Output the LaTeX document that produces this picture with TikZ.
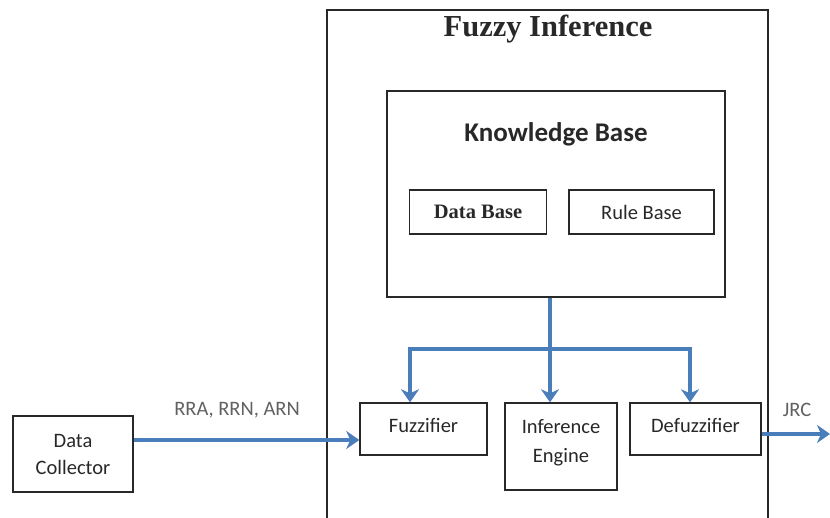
\documentclass[tikz,border=0pt]{standalone}
\usepackage{fontspec}
\setmainfont{Liberation Serif}
\newfontfamily\calfont{Carlito}
\usetikzlibrary{arrows.meta}
\definecolor{flow}{RGB}{74,126,187}
\definecolor{frame}{RGB}{40,40,40}
\definecolor{ink}{RGB}{40,40,40}
\tikzset{
  box/.style={draw=frame, line width=1.4pt, minimum width=#1, inner sep=0pt},
  flowline/.style={draw=flow, line width=4pt,
    -{Stealth[length=13pt,width=18pt,inset=4pt]}},
  lbl/.style={text=ink, font=\calfont\fontsize{20.5}{27}\selectfont, align=center},
  sig/.style={text=black!62, font=\calfont\fontsize{20.5}{24}\selectfont},
}
\begin{document}
\begin{tikzpicture}[x=1pt,y=-1pt]
\useasboundingbox (0,0) rectangle (830,518);

% outer frame of the inference stage (runs past the bottom edge)
\draw[frame, line width=1.4pt] (327,518) -- (327,10) -- (768,10) -- (768,518);
\node[font=\bfseries\fontsize{30.5}{33}\selectfont, text=ink] (title) at (548,29) {Fuzzy Inference};

% knowledge base
\node[box=338pt, minimum height=206pt] (kb) at (556,194) {};
\node[font=\calfont\bfseries\fontsize{27}{30}\selectfont, text=ink] (kbt) at (556,134) {Knowledge Base};
\node[box=137pt, minimum height=44pt, font=\bfseries\fontsize{20.5}{24}\selectfont, text=ink] (db) at (478,212) {Data Base};
\node[box=145pt, minimum height=44pt, lbl] (rb) at (641.5,212) {Rule Base};

% processing blocks
\node[box=120pt, minimum height=76pt, lbl] (dc) at (73,454) {Data\\Collector};
\node[box=127pt, minimum height=52pt] (fz) at (423.5,429) {};
\node[lbl] (fzt) at (423.5,425) {Fuzzifier};
\node[box=112pt, minimum height=87pt] (ie) at (561,446.5) {};
\node[lbl, anchor=north, font=\calfont\fontsize{20.5}{29}\selectfont] (iet) at (561,416) {Inference\\Engine};
\node[box=131pt, minimum height=52pt] (dz) at (695.5,429) {};
\node[lbl] (dzt) at (695.5,425) {Defuzzifier};

% connectors
\coordinate (fork) at (550,349);
\coordinate (out) at (830,434);
\draw[flowline] (kb.south -| fork) -- (fork) -- (ie.north -| fork);
\draw[flowline] (fork) -| ([xshift=-13.5pt]fz.north);
\draw[flowline] (fork) -| ([xshift=-5.5pt]dz.north);
\draw[flowline] (dc.east |- 0,440) -- (fz.west |- 0,440);
\draw[flowline] (dz.east |- out) -- (out);

% signal labels
\node[sig] (in) at (237,410) {RRA, RRN, ARN};
\node[sig] (jrc) at (797,410) {JRC};
\end{tikzpicture}
\end{document}
